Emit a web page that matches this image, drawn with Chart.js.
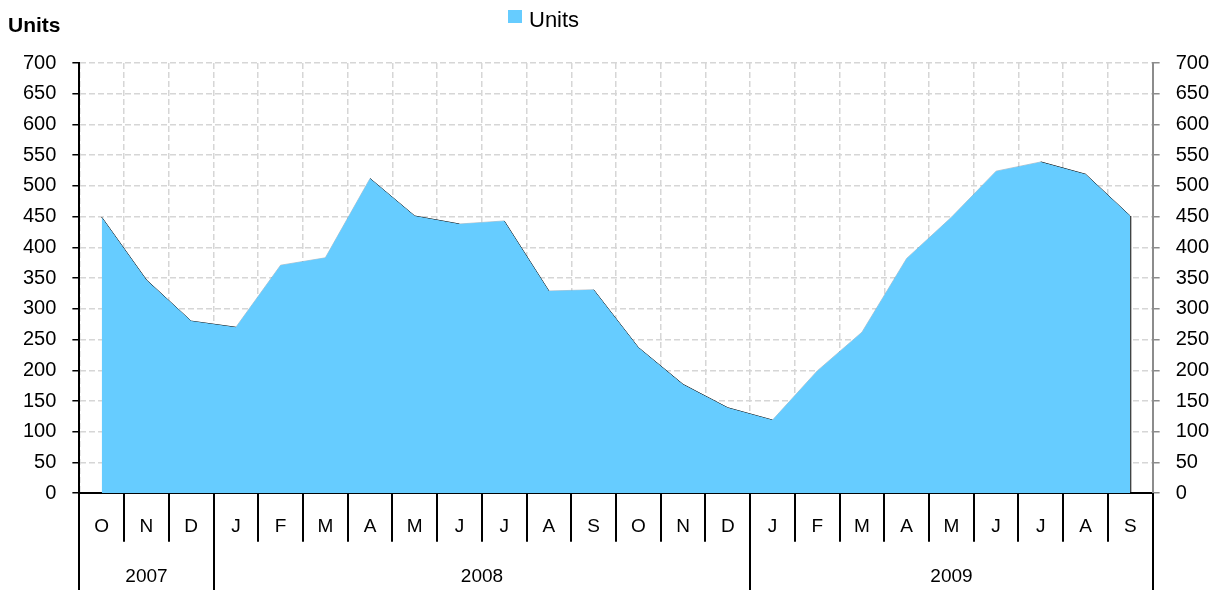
<!DOCTYPE html>
<html>
<head>
<meta charset="utf-8">
<script src="https://cdn.jsdelivr.net/npm/chart.js@4"></script>
<style>
  html, body { margin: 0; padding: 0; background: #fff; }
  #wrap { width: 1225px; height: 590px; position: relative; }
</style>
</head>
<body>
<div id="wrap"><canvas id="chart"></canvas></div>
<script>
const months = ['O', 'N', 'D', 'J', 'F', 'M', 'A', 'M', 'J', 'J', 'A', 'S',
                'O', 'N', 'D', 'J', 'F', 'M', 'A', 'M', 'J', 'J', 'A', 'S'];
const years = ['2007', '2008', '2009'];
const monthsPerYear = [3, 12, 9];
const units = [449, 347, 280, 270, 371, 383, 512, 451, 438, 443, 329, 331,
               237, 177, 139, 119, 199, 262, 382, 449, 524, 539, 519, 451];
const yTicks = { min: 0, max: 700, step: 50 };

const font = 'Liberation Sans, Arial, sans-serif';
const fill = '#66CCFF';
const gridColor = '#d6d6d6';

// year row, separators, title, legend and the closing edge of the area
const extras = {
    id: 'extras',
    afterDraw(chart) {
        const ctx = chart.ctx;
        const x = chart.scales.x;
        const y = chart.scales.y;
        const area = chart.chartArea;
        const half = (x.getPixelForValue(1) - x.getPixelForValue(0)) / 2;
        const rowBottom = area.bottom + 48.5;
        const bottom = chart.height;

        ctx.save();
        ctx.strokeStyle = '#000';
        ctx.lineWidth = 2;

        // month separators
        for (let i = 0; i <= months.length; i++) {
            const px = Math.round(x.getPixelForValue(i) - half);
            ctx.beginPath();
            ctx.moveTo(px, area.bottom);
            ctx.lineTo(px, rowBottom);
            ctx.stroke();
        }

        // year separators and labels
        ctx.font = '19px ' + font;
        ctx.fillStyle = '#000';
        ctx.textAlign = 'center';
        ctx.textBaseline = 'middle';
        let start = 0;
        years.forEach((label, k) => {
            const end = start + monthsPerYear[k];
            const x0 = Math.round(x.getPixelForValue(start) - half);
            const x1 = Math.round(x.getPixelForValue(end - 1) + half);
            [x0, x1].forEach(px => {
                ctx.beginPath();
                ctx.moveTo(px, area.bottom);
                ctx.lineTo(px, bottom);
                ctx.stroke();
            });
            ctx.fillText(label, (x0 + x1) / 2, rowBottom + 35);
            start = end;
        });

        // closing vertical edge at the last point
        const meta = chart.getDatasetMeta(0);
        const last = meta.data[meta.data.length - 1];
        ctx.lineWidth = 1;
        ctx.beginPath();
        ctx.moveTo(last.x + 0.5, last.y);
        ctx.lineTo(last.x + 0.5, y.getPixelForValue(0));
        ctx.stroke();

        // axis title
        ctx.textAlign = 'left';
        ctx.textBaseline = 'alphabetic';
        ctx.font = 'bold 21px ' + font;
        ctx.fillText('Units', 8, 32);

        // legend
        ctx.fillStyle = chart.data.datasets[0].backgroundColor;
        ctx.fillRect(508, 10, 14, 13);
        ctx.fillStyle = '#000';
        ctx.font = '22px ' + font;
        ctx.fillText(chart.data.datasets[0].label, 529, 27);
        ctx.restore();
    }
};

const yAxis = (position, borderColor, onArea) => ({
    position: position,
    min: yTicks.min,
    max: yTicks.max,
    ticks: {
        stepSize: yTicks.step,
        color: '#000',
        font: { family: font, size: 20 },
        padding: 16
    },
    grid: {
        drawOnChartArea: onArea,
        color: gridColor,
        lineWidth: 1.5,
        tickColor: borderColor,
        tickLength: 7,
        tickWidth: 1.5,
        tickBorderDash: []
    },
    border: { color: borderColor, width: 2, dash: [6, 3] }
});

new Chart(document.getElementById('chart'), {
    type: 'line',
    data: {
        labels: months,
        datasets: [{
            label: 'Units',
            data: units,
            backgroundColor: fill,
            fill: 'origin',
            borderWidth: 0,
            pointRadius: 0,
            tension: 0
        }, {
            label: 'outline',
            data: units,
            fill: false,
            borderWidth: 1,
            borderColor: '#000',
            segment: {
                borderColor: c => c.p1.parsed.y < c.p0.parsed.y ? '#000' : 'rgba(40,60,80,0.3)'
            },
            pointRadius: 0,
            tension: 0
        }]
    },
    options: {
        responsive: true,
        maintainAspectRatio: false,
        animation: false,
        layout: { padding: { left: 7, right: 0, top: 63, bottom: 30 } },
        plugins: {
            legend: { display: false },
            title: { display: false },
            tooltip: { enabled: false }
        },
        scales: {
            x: {
                offset: true,
                ticks: {
                    color: '#000',
                    font: { family: font, size: 19 },
                    padding: 22,
                    maxRotation: 0,
                    autoSkip: false
                },
                grid: {
                    offset: true,
                    drawTicks: false,
                    color: gridColor,
                    lineWidth: 1.5
                },
                border: { color: '#000', width: 2, dash: [6, 3] }
            },
            y: yAxis('left', '#000', true),
            y2: yAxis('right', '#8c8c8c', false)
        }
    },
    plugins: [extras]
});
</script>
</body>
</html>
